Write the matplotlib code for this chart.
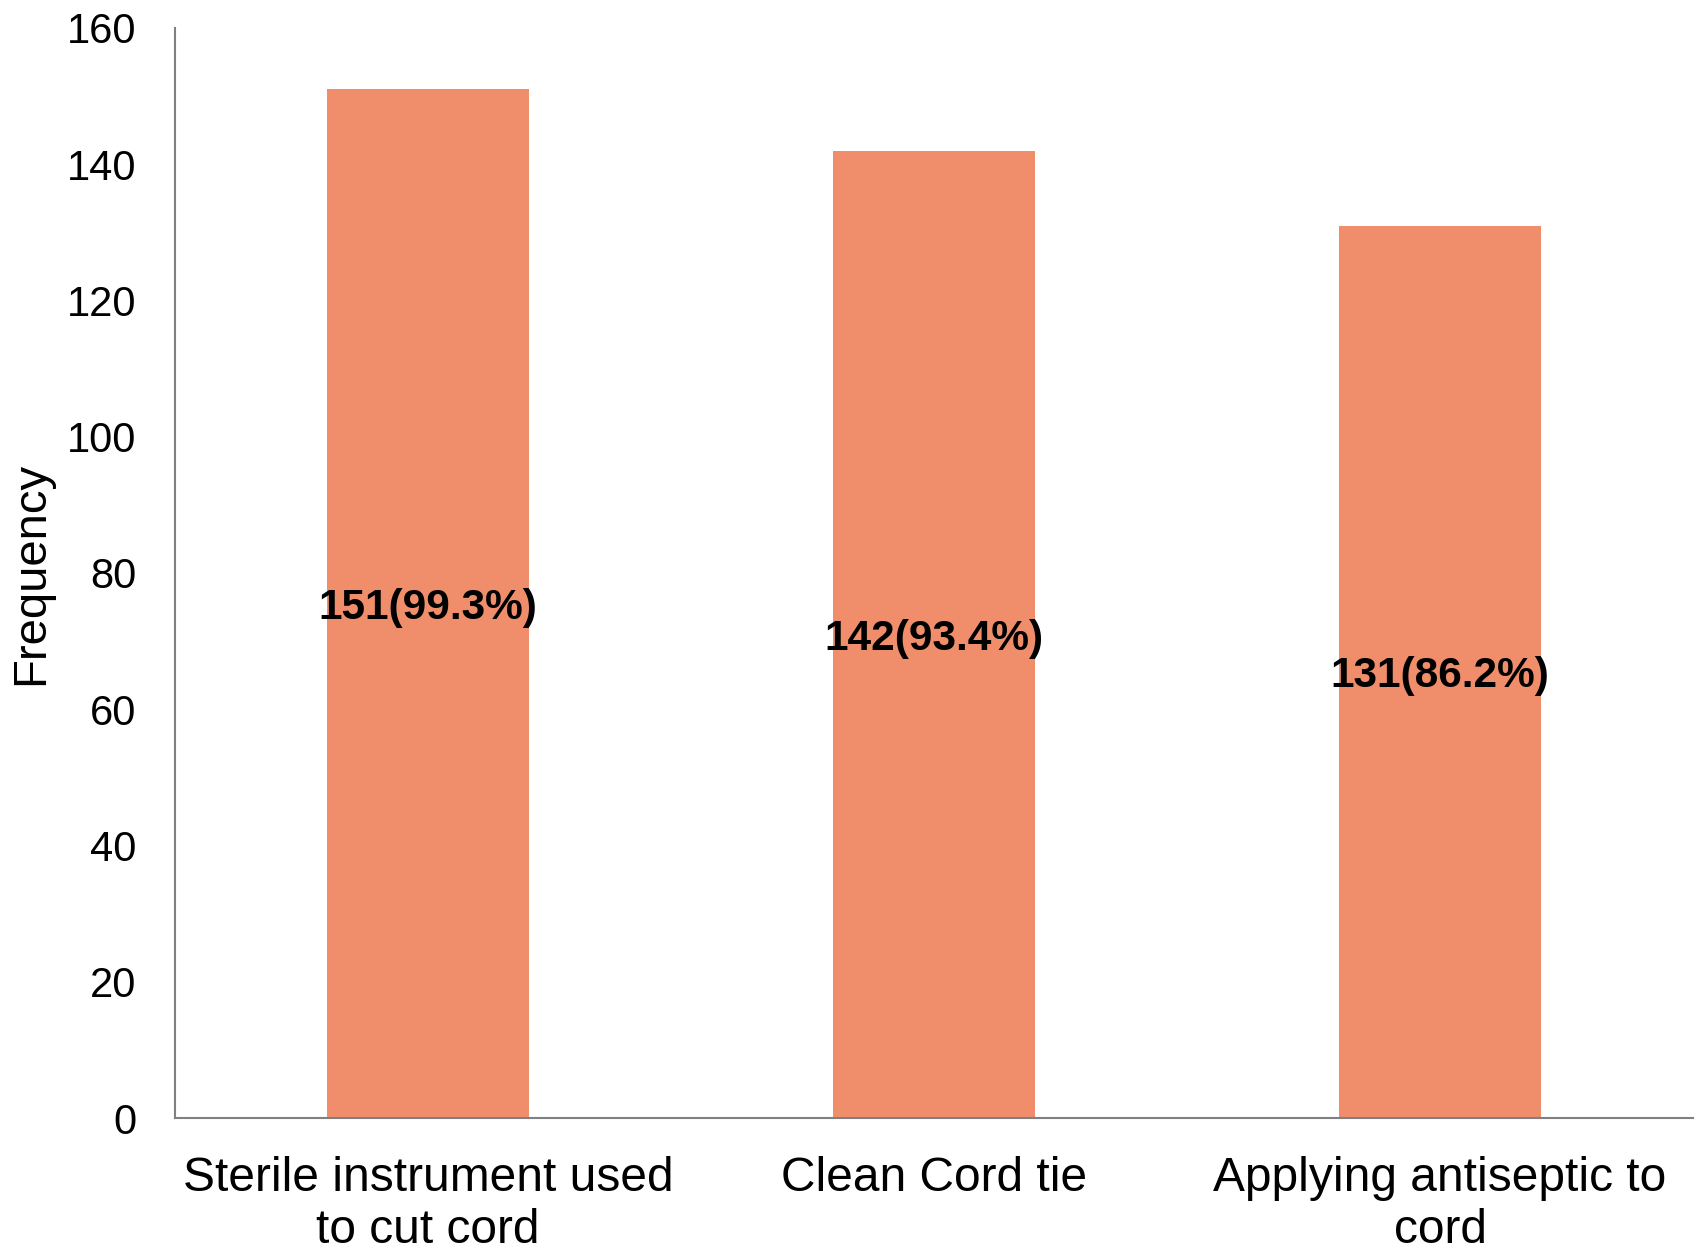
import matplotlib.pyplot as plt

plt.rcParams['font.family'] = ['Liberation Sans', 'DejaVu Sans']

categories = ["Sterile instrument used\nto cut cord", "Clean Cord tie", "Applying antiseptic to\ncord"]
counts = [151, 142, 131]
percents = [99.3, 93.4, 86.2]

fig = plt.figure(figsize=(17.02, 12.53), dpi=100)
ax = fig.add_axes([0.1028, 0.1077, 0.892, 0.870])

x = range(len(categories))
bars = ax.bar(x, counts, width=0.4, color='#F08E6B')

# bold count(percent) labels at mid-height of each bar
for i, b in enumerate(bars):
    ax.text(b.get_x() + b.get_width() / 2, counts[i] / 2, f"{counts[i]}({percents[i]}%)",
            ha='center', va='center_baseline', fontsize=30.5, fontweight='bold', color='black')

ax.set_xlim(-0.5, 2.5)
ax.set_ylim(0, 160)
ax.set_yticks(range(0, 161, 20))
ax.set_xticks(list(x))
ax.set_xticklabels(categories, fontsize=34.5, linespacing=1.22)
ax.tick_params(axis='y', labelsize=30, length=0, pad=28)
ax.tick_params(axis='x', length=0, pad=27)
ax.set_ylabel('Frequency', fontsize=34, labelpad=10)

for s in ['top', 'right']:
    ax.spines[s].set_visible(False)
for s in ['left', 'bottom']:
    ax.spines[s].set_color('#808080')
    ax.spines[s].set_linewidth(1.5)

plt.savefig('out.png', dpi=100)
